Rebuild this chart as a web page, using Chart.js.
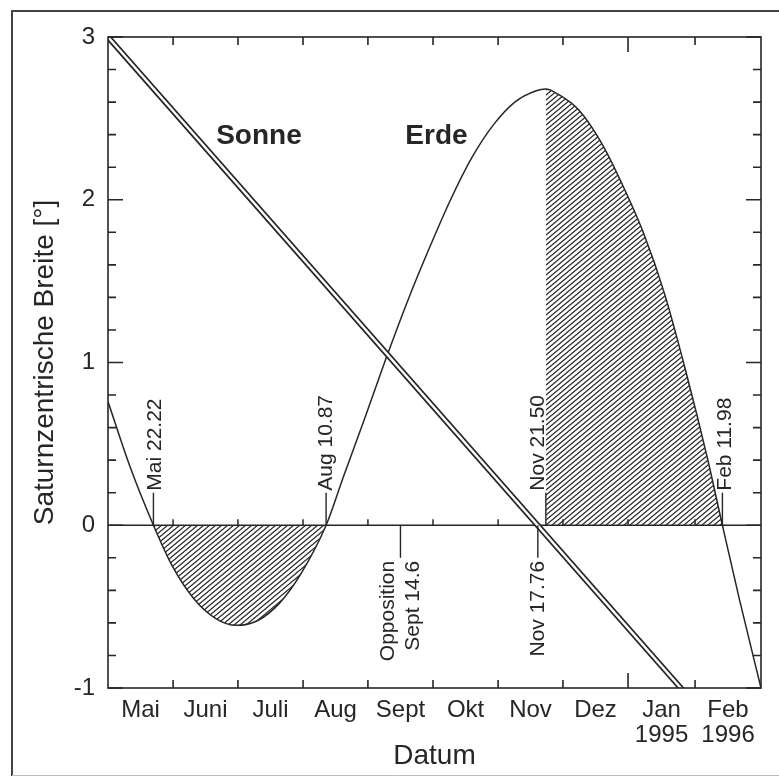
<!DOCTYPE html>
<html>
<head>
<meta charset="utf-8">
<script src="https://cdn.jsdelivr.net/npm/chart.js@4.4.1/dist/chart.umd.min.js"></script>
<style>
  html, body { margin: 0; padding: 0; background: #fff; }
  canvas { display: block; }
</style>
</head>
<body>
<canvas id="breite" width="779" height="776"></canvas>
<script>
// x values are days counted from 1 May 1995
const monthNames = ['Mai', 'Juni', 'Juli', 'Aug', 'Sept', 'Okt', 'Nov', 'Dez', 'Jan', 'Feb'];
const yearNames = ['', '', '', '', '', '', '', '', '1995', '1996'];
const monthTicks = [0, 30.4, 60.7, 91.1, 121.4, 151.8, 182.2, 212.5, 242.9, 274.2, 305];
const newYearTick = 242.9;

const yTicks = [-1, 0, 1, 2, 3];
const yMinorTicks = [-0.8, -0.6, -0.4, -0.2, 0.2, 0.4, 0.6, 0.8, 1.2, 1.4, 1.6, 1.8, 2.2, 2.4, 2.6, 2.8];

const sonneDays = [0, 305];
const sonneVals = [3.0, -1.56];

const erdeDays = [0, 10, 21.22, 30, 40, 50, 60, 70, 80, 90, 101.87, 110, 120, 130, 140, 150, 160, 170,
                  180, 190, 200, 204.5, 210, 220, 230, 240, 250, 260, 270, 280, 286.98, 295, 305];
const erdeVals = [0.76, 0.37, 0, -0.25, -0.45, -0.57, -0.615, -0.585, -0.48, -0.30, 0, 0.30, 0.66, 1.03,
                  1.38, 1.70, 2.00, 2.26, 2.46, 2.60, 2.67, 2.68, 2.65, 2.55, 2.36, 2.10, 1.80, 1.42,
                  0.94, 0.41, 0, -0.46, -1.0];

const hatchRanges = [[21.22, 101.87], [204.5, 286.98]];

const eventDays = [21.22, 101.87, 136.6, 200.76, 204.5, 286.98];
const eventLabels = [['Mai 22.22'], ['Aug 10.87'], ['Opposition', 'Sept 14.6'], ['Nov 17.76'], ['Nov 21.50'], ['Feb 11.98']];
const eventSide = [1, 1, -1, -1, 1, 1];

const ink = '#262626';
const family = "'Liberation Sans', Arial, Helvetica, sans-serif";
Chart.defaults.font.family = family;
Chart.defaults.color = ink;

function pts(days, vals) {
  return days.map((d, i) => ({ x: d, y: vals[i] }));
}

const erdePts = pts(erdeDays, erdeVals);

function hatchPattern() {
  const w = 6, h = 5;
  const c = document.createElement('canvas');
  c.width = w; c.height = h;
  const g = c.getContext('2d');
  g.strokeStyle = '#262626';
  g.lineWidth = 1.3;
  for (let n = -1; n <= 1; n++) {
    g.beginPath();
    g.moveTo(-1, h + h / w + n * h);
    g.lineTo(w + 1, -h / w + n * h);
    g.stroke();
  }
  return g.createPattern(c, 'repeat');
}
const hatch = hatchPattern();

const labelDx = [2, 0, 0, 0, -8, 3];

const decor = {
  id: 'decor',
  beforeDraw(chart) {
    const { ctx } = chart;
    ctx.save();
    ctx.strokeStyle = '#444';
    ctx.lineWidth = 2;
    ctx.beginPath();
    ctx.moveTo(12, 776); ctx.lineTo(12, 11); ctx.lineTo(779, 11);
    ctx.stroke();
    ctx.strokeStyle = '#bbb';
    ctx.lineWidth = 1;
    ctx.beginPath();
    ctx.moveTo(12, 775.5); ctx.lineTo(779, 775.5);
    ctx.stroke();
    ctx.restore();
  },
  beforeDatasetsDraw(chart) {
    const { ctx, chartArea: a, scales: { x, y } } = chart;
    const y0 = y.getPixelForValue(0);
    ctx.save();
    ctx.strokeStyle = ink;
    ctx.lineWidth = 1.5;
    ctx.beginPath();
    ctx.moveTo(a.left, y0); ctx.lineTo(a.right, y0);
    monthTicks.slice(1, -1).forEach(v => {
      const px = x.getPixelForValue(v);
      ctx.moveTo(px, y0); ctx.lineTo(px, y0 - 6);
    });
    ctx.stroke();
    ctx.restore();
  },
  afterDatasetsDraw(chart) {
    const { ctx, chartArea: a, scales: { x, y } } = chart;
    const y0 = y.getPixelForValue(0);
    ctx.save();
    ctx.strokeStyle = ink;
    ctx.fillStyle = ink;
    ctx.lineWidth = 1.6;
    ctx.strokeRect(a.left, a.top, a.right - a.left, a.bottom - a.top);

    ctx.beginPath();
    yTicks.concat(yMinorTicks).forEach(v => {
      const py = y.getPixelForValue(v);
      const len = yTicks.includes(v) ? 15 : 8;
      ctx.moveTo(a.left, py); ctx.lineTo(a.left + len, py);
      ctx.moveTo(a.right, py); ctx.lineTo(a.right - len, py);
    });
    monthTicks.slice(1, -1).forEach(v => {
      const px = x.getPixelForValue(v);
      const len = v === newYearTick ? 15 : 8;
      ctx.moveTo(px, a.top); ctx.lineTo(px, a.top + len);
      ctx.moveTo(px, a.bottom); ctx.lineTo(px, a.bottom - len);
    });
    ctx.stroke();

    // event markers on the zero line
    ctx.lineWidth = 1.4;
    ctx.font = '21px ' + family;
    eventDays.forEach((d, i) => {
      const px = x.getPixelForValue(d);
      const dir = eventSide[i];
      const tip = y.getPixelForValue(0.2 * dir);
      ctx.beginPath();
      ctx.moveTo(px, y0); ctx.lineTo(px, tip);
      ctx.stroke();
      ctx.save();
      ctx.translate(px + labelDx[i], dir > 0 ? tip - 2 : tip + 3);
      ctx.rotate(-Math.PI / 2);
      ctx.textAlign = dir > 0 ? 'left' : 'right';
      ctx.textBaseline = 'middle';
      const lines = eventLabels[i];
      lines.forEach((t, k) => ctx.fillText(t, 0, (k - (lines.length - 1) / 2) * 25));
      ctx.restore();
    });

    ctx.font = 'bold 28px ' + family;
    ctx.textAlign = 'center';
    ctx.textBaseline = 'middle';
    ctx.fillText('Sonne', x.getPixelForValue(70.5), y.getPixelForValue(2.39));
    ctx.fillText('Erde', x.getPixelForValue(153.4), y.getPixelForValue(2.39));
    ctx.restore();
  }
};

new Chart(document.getElementById('breite'), {
  type: 'line',
  data: {
    datasets: [
      {
        label: 'Sonne innen',
        data: pts(sonneDays, sonneVals),
        borderColor: '#fff',
        borderWidth: 2.4,
        pointRadius: 0,
        fill: false,
        clip: 0
      },
      {
        label: 'Sonne',
        data: pts(sonneDays, sonneVals),
        borderColor: ink,
        borderWidth: 5.8,
        pointRadius: 0,
        fill: false,
        clip: 0
      },
      {
        label: 'Erde',
        data: erdePts,
        borderColor: ink,
        borderWidth: 1.5,
        pointRadius: 0,
        cubicInterpolationMode: 'monotone',
        fill: false,
        clip: 0
      },
      ...hatchRanges.map((r, i) => ({
        label: 'Schraffur ' + (i + 1),
        data: erdePts.filter(p => p.x >= r[0] && p.x <= r[1]),
        borderWidth: 0,
        borderColor: 'rgba(0,0,0,0)',
        backgroundColor: hatch,
        pointRadius: 0,
        cubicInterpolationMode: 'monotone',
        fill: 'origin'
      }))
    ]
  },
  options: {
    responsive: false,
    animation: false,
    events: [],
    layout: { padding: { left: 0, top: 37, right: 18, bottom: 0 } },
    plugins: {
      legend: { display: false },
      tooltip: { enabled: false }
    },
    scales: {
      x: {
        type: 'linear',
        min: 0,
        max: 305,
        grid: { display: false, drawTicks: false },
        border: { display: false },
        afterBuildTicks: s => {
          s.ticks = monthNames.map((n, i) => ({ value: (monthTicks[i] + monthTicks[i + 1]) / 2 }));
        },
        afterFit: s => { s.height = 88; },
        ticks: {
          autoSkip: false,
          maxRotation: 0,
          padding: 10,
          color: ink,
          font: { size: 24, lineHeight: 1.04 },
          callback: (v, i) => yearNames[i] ? [monthNames[i], yearNames[i]] : monthNames[i]
        },
        title: {
          display: true,
          text: 'Datum',
          color: ink,
          font: { size: 28 },
          padding: { top: 0, bottom: 3 }
        }
      },
      y: {
        min: -1,
        max: 3,
        grid: { display: false, drawTicks: false },
        border: { display: false },
        afterBuildTicks: s => { s.ticks = yTicks.map(v => ({ value: v })); },
        afterFit: s => { s.width = 108; },
        ticks: {
          padding: 13,
          color: ink,
          font: { size: 24 }
        },
        title: {
          display: true,
          text: 'Saturnzentrische Breite [°]',
          color: ink,
          font: { size: 28 },
          padding: { top: 28, bottom: 0 }
        }
      }
    }
  },
  plugins: [decor]
});
</script>
</body>
</html>
